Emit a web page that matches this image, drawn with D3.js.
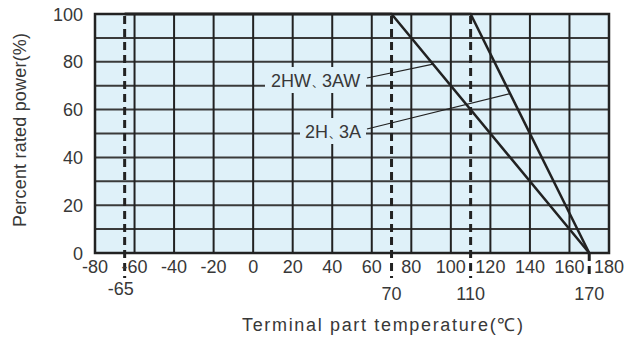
<!DOCTYPE html>
<html>
<head>
<meta charset="utf-8">
<script src="https://cdn.jsdelivr.net/npm/d3@7"></script>
<style>
  body { margin: 0; background: #fff; }
  text { font-family: "Liberation Sans", Arial, sans-serif; fill: #383838; }
</style>
</head>
<body>
<div id="chart"></div>
<script>
// derating curves: temperature (C) vs percent rated power
const seriesNames = [["2HW", "3AW"], ["2H", "3A"]];
const temps2HW = [-65, 70, 170];
const power2HW = [100, 100, 0];
const temps2H = [-65, 110, 170];
const power2H = [100, 100, 0];
const xTicks = [-80, -60, -40, -20, 0, 20, 40, 60, 80, 100, 120, 140, 160, 180];
const yTicks = [0, 20, 40, 60, 80, 100];
const markTemps = [-65, 70, 110, 170];
// where the leader lines touch each curve (temperature)
const leaderAt = [91, 130];

const width = 631, height = 338;
const margin = {top: 14, right: 22, bottom: 85, left: 95};
const bg = "#dff1f9";

const svg = d3.select("#chart").append("svg")
    .attr("width", width)
    .attr("height", height);

const x = d3.scaleLinear().domain([-80, 180]).range([margin.left, width - margin.right]);
const y = d3.scaleLinear().domain([0, 100]).range([height - margin.bottom, margin.top]);

// background
svg.append("rect")
    .attr("x", x(-80)).attr("y", y(100))
    .attr("width", x(180) - x(-80)).attr("height", y(0) - y(100))
    .attr("fill", bg);

// grid
svg.append("g").selectAll("line")
    .data(d3.range(10, 100, 10))
    .enter().append("line")
    .attr("x1", x(-80)).attr("x2", x(180))
    .attr("y1", d => y(d)).attr("y2", d => y(d))
    .attr("stroke", "#3a3a3a").attr("stroke-width", 2);

svg.append("g").selectAll("line")
    .data(xTicks.slice(1, -1))
    .enter().append("line")
    .attr("x1", d => x(d)).attr("x2", d => x(d))
    .attr("y1", y(0)).attr("y2", y(100))
    .attr("stroke", "#222").attr("stroke-width", 2);

// frame
svg.append("rect")
    .attr("x", x(-80)).attr("y", y(100))
    .attr("width", x(180) - x(-80)).attr("height", y(0) - y(100))
    .attr("fill", "none").attr("stroke", "#222").attr("stroke-width", 2.5);

// dashed temperature markers
svg.append("g").selectAll("line")
    .data(markTemps)
    .enter().append("line")
    .attr("x1", d => x(d)).attr("x2", d => x(d))
    .attr("y1", d => d == 170 ? y(0) : y(100) + 2)
    .attr("y2", y(0) + 25)
    .attr("stroke", "#222").attr("stroke-width", 3)
    .attr("stroke-dasharray", "8,5");

// label boxes (cover grid behind text)
const labelPos = [{left: 265, tx: 271, ty: 80}, {left: 300, tx: 305, ty: 131}];
const labelRight = 366;
svg.append("g").selectAll("rect")
    .data(labelPos)
    .enter().append("rect")
    .attr("x", d => d.left)
    .attr("y", d => d.ty - 13)
    .attr("width", d => labelRight - d.left)
    .attr("height", 26)
    .attr("fill", bg);

// curves
const line = d3.line().x(d => x(d[0])).y(d => y(d[1]));
const curves = [d3.zip(temps2HW, power2HW), d3.zip(temps2H, power2H)];
svg.append("g").selectAll("path")
    .data(curves)
    .enter().append("path")
    .attr("d", line)
    .attr("fill", "none")
    .attr("stroke", "#222")
    .attr("stroke-width", 2.5);

// leader lines
function powerAt(temps, power, t) {
    return d3.scaleLinear().domain(temps.slice(1)).range(power.slice(1))(t);
}
const leaderY = [powerAt(temps2HW, power2HW, leaderAt[0]), powerAt(temps2H, power2H, leaderAt[1])];
svg.append("g").selectAll("line")
    .data(labelPos)
    .enter().append("line")
    .attr("x1", labelRight + 1)
    .attr("y1", d => d.ty - 2)
    .attr("x2", (d, i) => x(leaderAt[i]))
    .attr("y2", (d, i) => y(leaderY[i]))
    .attr("stroke", "#222").attr("stroke-width", 1.2);

const labels = svg.append("g").selectAll("text")
    .data(labelPos)
    .enter().append("text")
    .attr("x", d => d.tx)
    .attr("y", d => d.ty + 7)
    .attr("font-size", "18px");
labels.append("tspan").text((d, i) => seriesNames[i][0]);
labels.append("tspan")
    .attr("dx", 1)
    .style("font-family", "'Noto Sans CJK JP'")
    .style("font-size", "11px")
    .text("、");
labels.append("tspan").attr("dx", -1).text((d, i) => seriesNames[i][1]);

// tick labels
svg.append("g").selectAll("text")
    .data(xTicks)
    .enter().append("text")
    .attr("x", d => x(d))
    .attr("y", y(0) + 20)
    .attr("text-anchor", "middle")
    .attr("font-size", "18px")
    .text(d => d);

svg.append("g").selectAll("text")
    .data(yTicks)
    .enter().append("text")
    .attr("x", x(-80) - 12)
    .attr("y", d => y(d) + 6.5)
    .attr("text-anchor", "end")
    .attr("font-size", "18px")
    .text(d => d);

svg.append("g").selectAll("text")
    .data(markTemps)
    .enter().append("text")
    .attr("x", d => d == -65 ? x(d) - 4 : x(d))
    .attr("y", d => d == -65 ? y(0) + 42 : y(0) + 47)
    .attr("text-anchor", "middle")
    .attr("font-size", "18px")
    .text(d => d);

// axis titles
svg.append("text")
    .attr("x", 242).attr("y", 331)
    .attr("font-size", "18px")
    .attr("textLength", 281)
    .attr("lengthAdjust", "spacing")
    .text("Terminal part temperature(℃)");

svg.append("text")
    .attr("transform", "translate(26,227) rotate(-90)")
    .attr("font-size", "18px")
    .attr("textLength", 194)
    .attr("lengthAdjust", "spacing")
    .text("Percent rated power(%)");
</script>
</body>
</html>
